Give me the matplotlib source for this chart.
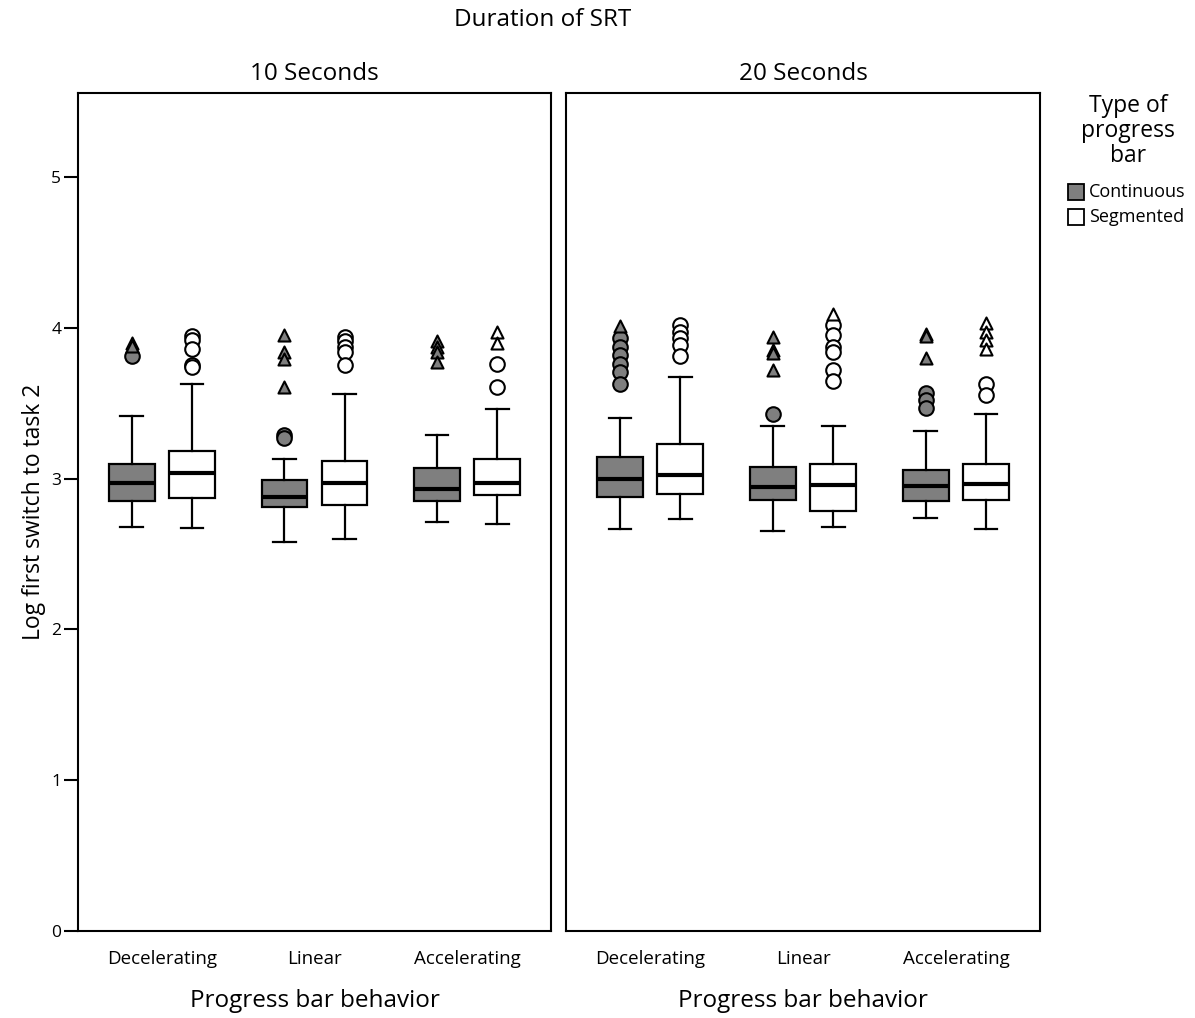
import matplotlib
matplotlib.use("Agg")
import matplotlib.pyplot as plt
from matplotlib.patches import Rectangle

plt.rcParams['font.family'] = ['Open Sans', 'DejaVu Sans']

categories = ["Decelerating", "Linear", "Accelerating"]
panels = ["10 Seconds", "20 Seconds"]
types = ["Continuous", "Segmented"]

# order within each panel: Dec-Cont, Dec-Seg, Lin-Cont, Lin-Seg, Acc-Cont, Acc-Seg
whislo_10 = [2.68, 2.67, 2.58, 2.60, 2.71, 2.70]
q1_10     = [2.85, 2.87, 2.81, 2.825, 2.85, 2.89]
med_10    = [2.97, 3.04, 2.875, 2.97, 2.93, 2.97]
q3_10     = [3.10, 3.18, 2.99, 3.12, 3.07, 3.13]
whishi_10 = [3.415, 3.63, 3.13, 3.56, 3.29, 3.46]
circles_10 = [[3.81], [3.945, 3.92, 3.86, 3.75, 3.74], [3.29, 3.27],
              [3.94, 3.91, 3.875, 3.84, 3.75], [], [3.76, 3.61]]
triangles_10 = [[3.90, 3.88], [], [3.95, 3.84, 3.79, 3.61],
                [], [3.91, 3.87, 3.84, 3.77], [3.97, 3.90]]

whislo_20 = [2.665, 2.73, 2.65, 2.68, 2.74, 2.665]
q1_20     = [2.875, 2.895, 2.86, 2.785, 2.85, 2.86]
med_20    = [3.00, 3.025, 2.945, 2.955, 2.95, 2.965]
q3_20     = [3.145, 3.23, 3.075, 3.10, 3.06, 3.10]
whishi_20 = [3.40, 3.675, 3.35, 3.35, 3.315, 3.43]
circles_20 = [[3.93, 3.875, 3.82, 3.76, 3.71, 3.63], [4.02, 3.97, 3.93, 3.885, 3.81],
              [3.43], [4.02, 3.955, 3.875, 3.84, 3.72, 3.65],
              [3.565, 3.52, 3.47], [3.63, 3.555]]
triangles_20 = [[4.01], [], [3.94, 3.85, 3.835, 3.72], [4.09],
                [3.96, 3.945, 3.80], [4.03, 3.975, 3.92, 3.86]]

y_ticks = [0, 1, 2, 3, 4, 5]

gray = "#7f7f7f"
fills = [gray, "white"]

fig = plt.figure(figsize=(11.95, 10.18), dpi=100)
ax1 = fig.add_axes([78/1195, 87/1018, 473/1195, 838/1018])
ax2 = fig.add_axes([566/1195, 87/1018, 474/1195, 838/1018])

data = [
    (whislo_10, q1_10, med_10, q3_10, whishi_10, circles_10, triangles_10),
    (whislo_20, q1_20, med_20, q3_20, whishi_20, circles_20, triangles_20),
]

offset = 0.197
width = 0.30
for ax, title, d in zip([ax1, ax2], panels, data):
    wl, q1, md, q3, wh, circ, tri = d
    stats = []
    positions = []
    for i in range(6):
        cat = i // 2
        t = i % 2
        positions.append(cat + (-offset if t == 0 else offset))
        stats.append(dict(whislo=wl[i], q1=q1[i], med=md[i], q3=q3[i], whishi=wh[i], fliers=[]))
    bp = ax.bxp(stats, positions=positions, widths=width, showfliers=False,
                patch_artist=True,
                boxprops=dict(linewidth=1.6, edgecolor="black"),
                whiskerprops=dict(linewidth=1.6, color="black"),
                capprops=dict(linewidth=1.6, color="black"),
                medianprops=dict(linewidth=3.0, color="black"),
                capwidths=0.15, zorder=2)
    for i, patch in enumerate(bp['boxes']):
        patch.set_facecolor(fills[i % 2])
    for i in range(6):
        fc = fills[i % 2]
        if circ[i]:
            ax.scatter([positions[i]] * len(circ[i]), circ[i], s=110, marker='o',
                       facecolor=fc, edgecolor="black", linewidth=1.5, zorder=3)
        if tri[i]:
            ax.scatter([positions[i]] * len(tri[i]), tri[i], s=75, marker='^',
                       facecolor=fc, edgecolor="black", linewidth=1.5, zorder=3)
    ax.set_xlim(-0.55, 2.55)
    ax.set_ylim(0, 5.557)
    ax.set_xticks(range(3))
    ax.set_xticklabels(categories, fontsize=13.5)
    ax.tick_params(axis='x', length=0, pad=14)
    ax.set_xlabel("Progress bar behavior", fontsize=17.5, labelpad=15)
    ax.set_title(title, fontsize=17.5, pad=9)
    for s in ax.spines.values():
        s.set_linewidth(1.5)

ax1.set_yticks(y_ticks)
ax1.set_yticklabels([str(v) for v in y_ticks], fontsize=12.5)
ax1.tick_params(axis='y', length=10, width=1.5, direction='out', pad=2)
ax1.set_ylabel("Log first switch to task 2", fontsize=16.5, labelpad=4)
ax2.set_yticks([])

fig.text(543/1195, 1 - 20/1018, "Duration of SRT", fontsize=17.5, ha='center', va='center')

# legend
fig.text(1128/1195, 1 - 131/1018, "Type of\nprogress\nbar", fontsize=16.5, ha='center',
         va='center', linespacing=1.08)
for j, (lab, fc) in enumerate(zip(types, fills)):
    yc = 192 + j * 25
    fig.patches.append(Rectangle((1068/1195, 1 - (yc + 8)/1018), 16/1195, 16/1018,
                                 transform=fig.transFigure, facecolor=fc,
                                 edgecolor="black", linewidth=1.3))
    fig.text(1089/1195, 1 - yc/1018, lab, fontsize=13, ha='left', va='center')

fig.savefig("out.png", dpi=100, facecolor="white")
